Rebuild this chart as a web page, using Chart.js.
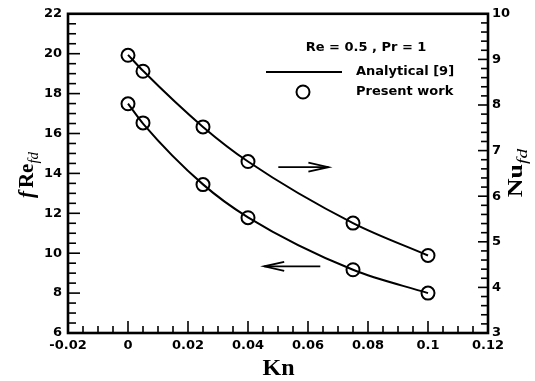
<!DOCTYPE html>
<html><head><meta charset="utf-8">
<script src="https://cdn.jsdelivr.net/npm/chart.js@4/dist/chart.umd.min.js"></script>
<style>html,body{margin:0;padding:0;background:#fff}#wrap{width:535px;height:381px;position:relative}</style>
</head><body><div id="wrap"><canvas id="c" width="535" height="381"></canvas></div>
<script>
// ---- data ----
const kn = [0, 0.005, 0.025, 0.04, 0.075, 0.1];
const fReAnalytical = [17.5, 16.5, 13.45, 11.8, 9.17, 8.0];
const nuAnalytical = [9.1, 8.75, 7.52, 6.76, 5.41, 4.7];
const fRePresent = [17.49, 16.53, 13.44, 11.78, 9.17, 8.0];
const nuPresent = [9.09, 8.74, 7.52, 6.76, 5.41, 4.7];
const xTicks = [-0.02, 0, 0.02, 0.04, 0.06, 0.08, 0.1, 0.12];
const fReTicks = [6, 8, 10, 12, 14, 16, 18, 20, 22];
const nuTicks = [3, 4, 5, 6, 7, 8, 9, 10];
// arrows (data units on x and left axis): [x from, x to, fRe level]
const arrowRight = [0.0501, 0.0668, 14.31];
const arrowLeft = [0.0641, 0.0454, 9.34];

const pts = (xs, ys) => xs.map((v, i) => ({x: v, y: ys[i]}));
const tickFont = {family: '"DejaVu Sans", sans-serif', size: 13, weight: 'bold'};

const decor = {
  id: 'decor',
  afterDraw(chart) {
    const {ctx, chartArea: a, scales: {x, y, y1}} = chart;
    ctx.save();
    ctx.strokeStyle = '#000'; ctx.fillStyle = '#000';
    const line = (x1, y1_, x2, y2) => {ctx.beginPath(); ctx.moveTo(x1, y1_); ctx.lineTo(x2, y2); ctx.stroke();};
    ctx.lineWidth = 1.6;
    // bottom axis ticks (inward)
    for (let i = 0; i <= 28; i++) {
      const v = -0.02 + i * 0.005; const px = x.getPixelForValue(v);
      const len = i % 4 === 0 ? 12 : 7;
      line(px, a.bottom, px, a.bottom - len);
    }
    // left axis ticks
    for (let i = 0; i <= 32; i++) {
      const v = 6 + i * 0.5; const py = y.getPixelForValue(v);
      const len = i % 4 === 0 ? 12 : 8;
      line(a.left, py, a.left + len, py);
    }
    // right axis ticks
    for (let i = 0; i <= 35; i++) {
      const v = 3 + i * 0.2; const py = y1.getPixelForValue(v);
      const len = i % 5 === 0 ? 10 : 7;
      line(a.right, py, a.right - len, py);
    }
    // frame
    ctx.lineWidth = 2.6;
    ctx.strokeRect(a.left, a.top, a.right - a.left, a.bottom - a.top);

    // arrows
    ctx.lineWidth = 1.8;
    const arrow = (spec) => {
      const xa = x.getPixelForValue(spec[0]), xb = x.getPixelForValue(spec[1]), py = y.getPixelForValue(spec[2]);
      line(xa, py, xb, py);
      const d = xb > xa ? -1 : 1;
      ctx.beginPath();
      ctx.moveTo(xb + d * 20, py - 4.5); ctx.lineTo(xb, py); ctx.lineTo(xb + d * 20, py + 4.5);
      ctx.stroke();
    };
    arrow(arrowRight); arrow(arrowLeft);

    // legend
    ctx.lineWidth = 2;
    line(266, 72, 342, 72);
    ctx.save();
    ctx.strokeStyle = '#000'; ctx.fillStyle = 'rgba(0,0,0,0)'; ctx.lineWidth = 2;
    Chart.helpers.drawPoint(ctx, {pointStyle: 'circle', radius: 6.5, rotation: 0, borderWidth: 2}, 303, 92);
    ctx.restore();
    ctx.font = 'bold 13px "DejaVu Sans", sans-serif';
    ctx.textBaseline = 'middle';
    ctx.textAlign = 'center';
    ctx.fillText('Re = 0.5 , Pr = 1', 366, 48);
    ctx.textAlign = 'left';
    ctx.fillText('Analytical [9]', 356, 72);
    ctx.fillText('Present work', 356, 92);

    // x title
    ctx.font = 'bold 24px "Liberation Serif", "Times New Roman", serif';
    ctx.textAlign = 'center'; ctx.textBaseline = 'alphabetic';
    ctx.fillText('Kn', (a.left + a.right) / 2 + 0.5, 375);

    // rotated titles
    const rotTitle = (cx, cy, sx, parts) => {
      ctx.save();
      ctx.translate(cx, cy); ctx.rotate(-Math.PI / 2); ctx.scale(sx, 1);
      ctx.textAlign = 'left'; ctx.textBaseline = 'alphabetic';
      let w = 0;
      parts.forEach(p => { ctx.font = p.font; p.w = ctx.measureText(p.t).width + (p.gap || 0); w += p.w; });
      let xx = -w / 2;
      parts.forEach(p => { ctx.font = p.font; ctx.fillText(p.t, xx, 6 + (p.dy || 0)); xx += p.w; });
      ctx.restore();
    };
    rotTitle(27, 175, 1, [
      {t: 'f', font: 'italic bold 21px "Liberation Serif", serif', gap: 3},
      {t: 'Re', font: 'bold 21px "Liberation Serif", serif'},
      {t: 'fd', font: 'italic 15px "Liberation Serif", serif', dy: 5, gap: 0}
    ]);
    rotTitle(516, 173, 1.3, [
      {t: 'Nu', font: 'bold 20px "Liberation Serif", serif'},
      {t: 'fd', font: 'italic 15px "Liberation Serif", serif', dy: 5}
    ]);
    ctx.restore();
  }
};

new Chart(document.getElementById('c'), {
  type: 'scatter',
  data: {
    datasets: [
      {label: 'Analytical fRe', data: pts(kn, fReAnalytical), yAxisID: 'y', showLine: true, pointRadius: 0,
       borderColor: '#000', borderWidth: 2, cubicInterpolationMode: 'monotone', fill: false},
      {label: 'Analytical Nu', data: pts(kn, nuAnalytical), yAxisID: 'y1', showLine: true, pointRadius: 0,
       borderColor: '#000', borderWidth: 2, cubicInterpolationMode: 'monotone', fill: false},
      {label: 'Present fRe', data: pts(kn, fRePresent), yAxisID: 'y', showLine: false, pointRadius: 6.5,
       pointStyle: 'circle', borderColor: '#000', backgroundColor: 'rgba(0,0,0,0)', borderWidth: 2},
      {label: 'Present Nu', data: pts(kn, nuPresent), yAxisID: 'y1', showLine: false, pointRadius: 6.5,
       pointStyle: 'circle', borderColor: '#000', backgroundColor: 'rgba(0,0,0,0)', borderWidth: 2}
    ]
  },
  options: {
    responsive: false, animation: false, devicePixelRatio: 1,
    layout: {padding: {left: 0, right: 0, top: 0, bottom: 0}},
    plugins: {legend: {display: false}, tooltip: {enabled: false}},
    scales: {
      x: {type: 'linear', position: 'bottom', min: -0.02, max: 0.12,
        afterBuildTicks: s => { s.ticks = xTicks.map(v => ({value: v})); },
        afterFit: s => { s.height = 48; },
        grid: {display: false, drawTicks: false}, border: {display: false},
        ticks: {font: tickFont, color: '#000', padding: 5, maxRotation: 0, autoSkip: false,
          callback: v => String(+v.toFixed(2))}},
      xTop: {type: 'linear', position: 'top', min: -0.02, max: 0.12, display: true,
        afterFit: s => { s.height = 12; },
        grid: {display: false, drawTicks: false}, border: {display: false},
        ticks: {display: false}},
      y: {type: 'linear', position: 'left', min: 6, max: 22,
        afterBuildTicks: s => { s.ticks = fReTicks.map(v => ({value: v})); },
        afterFit: s => { s.width = 68; },
        grid: {display: false, drawTicks: false}, border: {display: false},
        ticks: {font: tickFont, color: '#000', padding: 6, autoSkip: false}},
      y1: {type: 'linear', position: 'right', min: 3, max: 10,
        afterBuildTicks: s => { s.ticks = nuTicks.map(v => ({value: v})); },
        afterFit: s => { s.width = 47; },
        grid: {display: false, drawTicks: false}, border: {display: false},
        ticks: {font: tickFont, color: '#000', padding: 4, autoSkip: false}}
    }
  },
  plugins: [decor]
});
</script>
</body></html>
